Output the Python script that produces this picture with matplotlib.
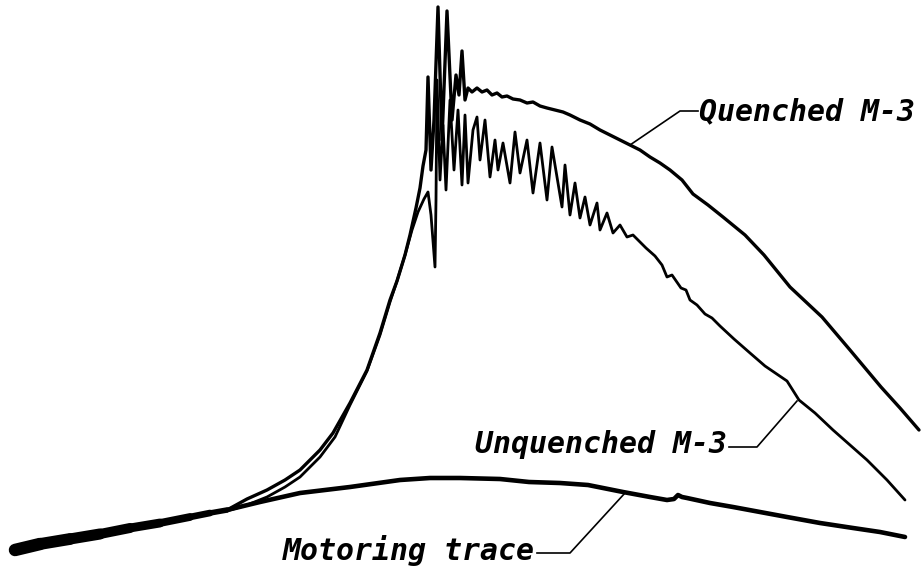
import matplotlib
matplotlib.use("Agg")
import matplotlib.pyplot as plt
from matplotlib.collections import LineCollection
import numpy as np

# ---- traced data (pixel-like crank-angle / pressure coordinates) ----
shared_x = [15, 40, 70, 100, 130, 160, 190, 210, 227]
shared_y = [550, 544, 539, 534, 528, 523, 517, 513, 510]
shared_w = [9.0, 8.5, 8.0, 7.2, 6.4, 5.6, 4.8, 4.0]

motoring_x = [227, 260, 300, 350, 400, 430, 460, 500, 529, 560, 588, 623, 650,
              667, 674, 678, 682, 687, 710, 733, 760, 787, 820, 853, 880, 905]
motoring_y = [510, 502, 493, 487, 480, 478, 478, 479, 482, 483, 485, 492, 497,
              500, 499, 495, 497, 498, 503, 507, 512, 517, 523, 528, 532, 537]

quenched_x = [227, 247, 267, 285, 300, 320, 333, 350, 367, 380, 390, 397, 405,
              410, 416, 420, 423, 426, 428, 431, 434, 438, 442, 447, 452, 456,
              459, 462, 465, 468, 472, 477, 482, 487, 492, 497, 502, 507, 513,
              520, 527, 533, 540, 547, 555, 563, 570, 580, 590, 600, 610, 620,
              630, 640, 650, 660, 670, 682, 693, 708, 723, 745, 764, 790, 822,
              850, 881, 900, 919]
quenched_y = [510, 499, 490, 480, 470, 450, 433, 403, 370, 333, 300, 281, 255,
              235, 208, 188, 166, 150, 77, 170, 120, 7, 140, 11, 120, 75,
              95, 51, 100, 88, 92, 88, 92, 90, 95, 93, 97, 96, 99,
              100, 103, 102, 106, 108, 110, 112, 115, 120, 124, 130, 135, 140,
              145, 150, 157, 163, 170, 180, 194, 205, 217, 235, 255, 287, 317,
              350, 387, 408, 430]

unquenched_x = [227, 247, 267, 285, 300, 320, 335, 350, 367, 380, 390, 397, 405,
                412, 418, 424, 428, 431, 435, 436, 437, 440, 443, 446, 450, 454,
                458, 462, 465, 468, 473, 477, 480, 485, 490, 495, 498, 503, 510,
                515, 520, 527, 533, 540, 547, 552, 562, 565, 570, 575, 580, 585,
                590, 597, 600, 607, 613, 620, 627, 633, 646, 655, 662, 667, 672,
                681, 686, 690, 697, 705, 712, 720, 734, 750, 765, 787, 799, 815,
                833, 850, 867, 887, 905]
unquenched_y = [511, 505, 497, 487, 477, 457, 437, 405, 371, 335, 302, 281, 255,
                230, 212, 199, 192, 215, 267, 200, 80, 180, 125, 190, 100, 170,
                110, 185, 115, 183, 130, 117, 160, 120, 177, 140, 170, 143, 183,
                132, 173, 140, 193, 143, 200, 147, 207, 165, 215, 183, 218, 197,
                225, 203, 230, 213, 233, 225, 237, 235, 248, 256, 265, 277, 275,
                288, 290, 300, 305, 314, 318, 326, 339, 353, 366, 381, 400, 413,
                430, 445, 460, 480, 500]

labels = ["Quenched M-3", "Unquenched M-3", "Motoring trace"]
label_pos = [(699, 120), (475, 453), (283, 560)]
leader_x = [[630, 680, 698], [729, 757, 797], [537, 570, 625]]
leader_y = [[145, 111, 111], [447, 447, 401], [553, 553, 493]]

# ---- drawing ----
fig = plt.figure(figsize=(9.21, 5.72), dpi=100)
ax = fig.add_axes([0, 0, 1, 1])
ax.set_xlim(0, 921)
ax.set_ylim(572, 0)
ax.axis("off")

pts = np.column_stack([shared_x, shared_y])
segs = [pts[i:i + 2] for i in range(len(pts) - 1)]
ax.add_collection(LineCollection(segs, linewidths=shared_w, colors="black",
                                 capstyle="round", joinstyle="round"))

ax.plot(motoring_x, motoring_y, color="black", lw=3.3,
        solid_capstyle="round", solid_joinstyle="round")
ax.plot(quenched_x, quenched_y, color="black", lw=2.4,
        solid_capstyle="round", solid_joinstyle="round")
ax.plot(unquenched_x, unquenched_y, color="black", lw=2.0,
        solid_capstyle="round", solid_joinstyle="round")

for lx, ly in zip(leader_x, leader_y):
    ax.plot(lx, ly, color="black", lw=1.2)

for text, (tx, ty) in zip(labels, label_pos):
    ax.text(tx, ty, text, family="DejaVu Sans Mono", weight="bold",
            style="oblique", fontsize=21.5, ha="left", va="baseline",
            color="black", clip_on=False)

fig.savefig("out.png", dpi=100)
